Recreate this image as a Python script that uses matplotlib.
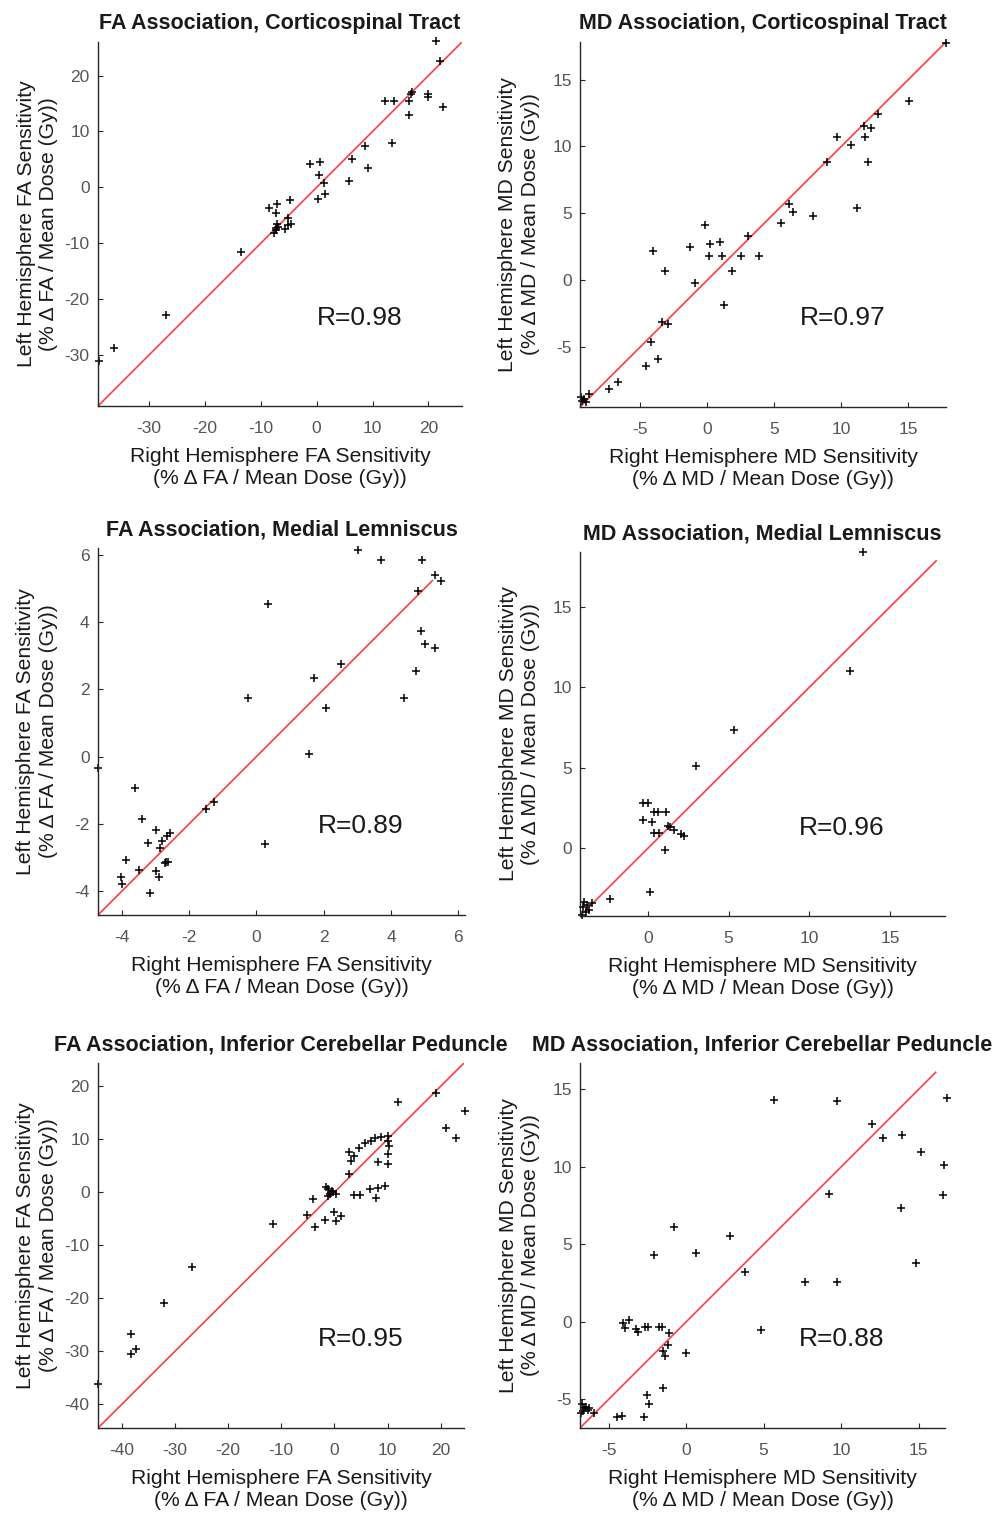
import numpy as np
import matplotlib
matplotlib.use("Agg")
import matplotlib.pyplot as plt

plt.rcParams['font.family'] = ['Liberation Sans', 'DejaVu Sans']
plt.rcParams['axes.unicode_minus'] = False

# FA, corticospinal tract (right hemisphere x, left hemisphere y)
fa_cst_x = [21.4, 22.0, 12.3, 13.8, 16.5, 17.1, 16.8, 19.9, 20.0, 16.5, 22.6, 13.4, 8.6, 6.3, 9.1, 5.8,
            -1.1, 0.6, 0.4, 1.3, 1.5, 0.2, -8.5, -7.0, -7.3, -4.7, -5.1, -4.5, -5.1, -7.0, -7.3, -7.6,
            -6.9, -5.7, -7.2, -13.6, -26.9, -36.3, -38.9]
fa_cst_y = [26.1, 22.6, 15.5, 15.5, 15.5, 17.1, 16.7, 16.7, 16.2, 12.9, 14.4, 7.9, 7.4, 5.1, 3.5, 1.2,
            4.2, 4.5, 2.2, 0.7, -1.1, -2.1, -3.6, -3.0, -4.6, -2.3, -5.4, -6.6, -6.7, -6.6, -7.3, -8.1,
            -7.0, -7.4, -7.6, -11.5, -22.9, -28.8, -31.0]

# MD, corticospinal tract
md_cst_x = [17.77, 15.05, 12.75, 11.68, 12.2, 11.76, 9.65, 10.72, 8.91, 12.0, 11.14, 6.14, 6.39, 7.87,
            5.52, 3.09, -0.12, 0.25, 0.99, 0.12, 1.09, 2.57, 3.86, -1.24, -3.99, -3.14, -0.92, 1.86,
            1.29, -3.34, -2.87, -4.16, -3.66, -4.5, -6.61, -7.28, -8.79, -9.16, -9.4, -9.03, -9.28]
md_cst_y = [17.72, 13.38, 12.44, 11.5, 11.35, 10.7, 10.73, 10.09, 8.85, 8.85, 5.43, 5.68, 5.1, 4.81,
            4.26, 3.32, 4.16, 2.73, 2.9, 1.86, 1.86, 1.86, 1.86, 2.48, 2.16, 0.69, -0.17, 0.69,
            -1.86, -3.1, -3.22, -4.63, -5.87, -6.42, -7.56, -8.1, -8.48, -8.85, -8.72, -9.1, -8.97]

# FA, medial lemniscus
fa_ml_x = [3.01, 3.69, 4.91, 5.31, 5.48, 4.79, 0.35, 4.88, 5.01, 5.31, 2.5, 1.70, 4.75, -0.25, 2.07,
           4.40, 1.57, -4.71, -3.60, -1.26, -1.49, -3.40, -3.0, -3.23, -2.57, -2.66, -2.82, -2.86,
           0.25, -3.87, -2.68, -2.62, -2.72, -3.49, -2.98, -2.90, -4.04, -4.00, -3.15]
fa_ml_y = [6.13, 5.83, 5.83, 5.39, 5.21, 4.91, 4.53, 3.73, 3.34, 3.22, 2.75, 2.33, 2.54, 1.74, 1.44,
           1.74, 0.09, -0.33, -0.92, -1.34, -1.55, -1.85, -2.18, -2.57, -2.27, -2.35, -2.50, -2.72,
           -2.61, -3.08, -3.12, -3.12, -3.16, -3.37, -3.41, -3.59, -3.58, -3.80, -4.05]

# MD, medial lemniscus
md_ml_x = [13.31, 12.49, 5.36, 2.97, -0.27, 0.0, 0.37, 0.62, 1.11, -0.27, 0.25, 1.26, 1.36, 1.65,
           2.06, 2.23, 0.41, 0.72, 1.05, 0.16, -2.37, -3.96, -3.44, -3.75, -4.0, -3.85, -4.06, -3.65]
md_ml_y = [18.4, 11.02, 7.32, 5.11, 2.84, 2.84, 2.23, 2.23, 2.23, 1.77, 1.61, 1.36, 1.30, 1.17,
           0.89, 0.78, 0.95, 0.95, -0.08, -2.72, -3.17, -3.34, -3.4, -3.54, -3.65, -3.96, -4.16, -3.85]

# FA, inferior cerebellar peduncle
fa_icp_x = [19.18, 11.95, 24.53, 21.07, 22.96, 10.0, 8.81, 7.67, 6.86, 5.79, 4.65, 3.77, 2.83, 3.08,
            10.0, 10.19, 10.0, 10.0, 8.18, 2.83, 9.56, 8.18, 6.79, 7.92, 4.84, 3.71, -1.64, -1.26,
            -0.19, -0.82, 0.25, -1.26, -0.5, -3.96, 0.0, -5.22, -1.76, 1.26, 0.38, -3.65, -11.64,
            -26.79, -32.14, -38.24, -38.24, -37.30, -44.5]
fa_icp_y = [18.83, 16.95, 15.32, 12.12, 10.23, 10.55, 10.36, 10.23, 9.73, 9.23, 8.41, 6.78, 7.53, 5.90,
            9.73, 8.66, 7.22, 5.34, 5.65, 3.52, 1.13, 0.82, 0.63, -1.07, -0.50, -0.50, 1.07, 0.63,
            0.0, -0.31, -0.31, -0.63, 0.31, -1.32, -3.64, -4.33, -5.27, -4.52, -5.34, -6.65, -5.90,
            -14.19, -20.84, -26.74, -30.57, -29.5, -36.2]

# MD, inferior cerebellar peduncle
md_icp_x = [5.65, 9.71, 16.83, 12.02, 12.73, 13.92, 15.15, 16.61, 9.23, 16.55, 13.85, -0.8, 2.80, -2.09,
            0.65, 3.82, 7.68, 9.71, 14.80, 4.81, -4.10, -3.95, -3.67, -3.24, -3.13, -2.63, -2.48,
            -1.77, -1.55, -1.08, -1.19, -1.51, -1.36, 0.0, -1.51, -2.55, -2.37, -2.70, -4.49, -4.14,
            -6.69, -6.58, -6.36, -6.8, -5.93, -6.47, -6.26, -6.65]
md_icp_y = [14.32, 14.23, 14.45, 12.75, 11.85, 12.05, 10.93, 10.12, 8.27, 8.19, 7.35, 6.15, 5.53, 4.33,
            4.44, 3.24, 2.59, 2.59, 3.77, -0.51, -0.06, -0.43, 0.11, -0.47, -0.64, -0.32, -0.32,
            -0.32, -0.32, -0.71, -1.52, -1.86, -2.19, -1.99, -4.24, -4.72, -5.29, -6.17, -6.15, -6.07,
            -5.32, -5.53, -5.68, -5.89, -5.89, -5.47, -5.57, -5.74]

titles = ['FA Association, Corticospinal Tract', 'MD Association, Corticospinal Tract',
          'FA Association, Medial Lemniscus', 'MD Association, Medial Lemniscus',
          'FA Association, Inferior Cerebellar Peduncle', 'MD Association, Inferior Cerebellar Peduncle']
r_values = ['R=0.98', 'R=0.97', 'R=0.89', 'R=0.96', 'R=0.95', 'R=0.88']
metrics = ['FA', 'MD', 'FA', 'MD', 'FA', 'MD']
xs = [fa_cst_x, md_cst_x, fa_ml_x, md_ml_x, fa_icp_x, md_icp_x]
ys = [fa_cst_y, md_cst_y, fa_ml_y, md_ml_y, fa_icp_y, md_icp_y]
limits = [(-39.1, 26.0), (-9.45, 17.8), (-4.71, 6.2), (-4.2, 18.4), (-44.5, 24.4), (-6.85, 16.7)]
line_ends = [26.0, 17.8, 5.23, 17.85, 24.4, 16.1]
ticks = [[-30, -20, -10, 0, 10, 20], [-5, 0, 5, 10, 15], [-4, -2, 0, 2, 4, 6],
         [0, 5, 10, 15], [-40, -30, -20, -10, 0, 10, 20], [-5, 0, 5, 10, 15]]

# axes boxes in pixels: left, top, width, height
W, H = 993, 1513
boxes = [(98, 42, 364, 364), (580, 42, 366, 365), (98, 548, 367, 367),
         (580, 552, 365, 364), (98, 1063, 366, 365), (580, 1063, 365, 365)]

fig = plt.figure(figsize=(W / 100, H / 100), dpi=100)

for i in range(6):
    l, t, w, h = boxes[i]
    ax = fig.add_axes([l / W, (H - t - h) / H, w / W, h / H])
    lo, hi = limits[i]
    ax.plot([lo, line_ends[i]], [lo, line_ends[i]], color='#ff3c3c', lw=1.2, zorder=1)
    ax.plot(xs[i], ys[i], '+', color='black', ms=6, mew=1.1, zorder=2, clip_on=False)
    ax.set_xlim(lo, hi)
    ax.set_ylim(lo, hi)
    ax.set_xticks(ticks[i])
    ax.set_yticks(ticks[i])
    for s in ['top', 'right']:
        ax.spines[s].set_visible(False)
    for s in ['left', 'bottom']:
        ax.spines[s].set_color('#262626')
        ax.spines[s].set_linewidth(1.0)
    ax.tick_params(direction='in', length=3.5, width=0.8, color='#262626',
                   labelsize=12.5, labelcolor='#555555')
    ax.tick_params(axis='x', pad=11)
    ax.tick_params(axis='y', pad=6)
    ax.set_title(titles[i], fontsize=15.5, fontweight='bold', color='#1a1a1a', pad=9)
    m = metrics[i]
    ax.set_xlabel('Right Hemisphere %s Sensitivity\n(%% \u0394 %s / Mean Dose (Gy))' % (m, m),
                  fontsize=15.2, color='#1a1a1a', linespacing=1.22)
    ax.set_ylabel('Left Hemisphere %s Sensitivity\n(%% \u0394 %s / Mean Dose (Gy))' % (m, m),
                  fontsize=15.2, color='#1a1a1a', linespacing=1.22)
    ax.xaxis.set_label_coords(0.5, -0.112)
    ax.yaxis.set_label_coords(-0.11, 0.5)
    ax.text(0.6, 0.243, r_values[i], transform=ax.transAxes, fontsize=19,
            ha='left', va='center', color='#1a1a1a')

fig.savefig('out.png', dpi=100)
